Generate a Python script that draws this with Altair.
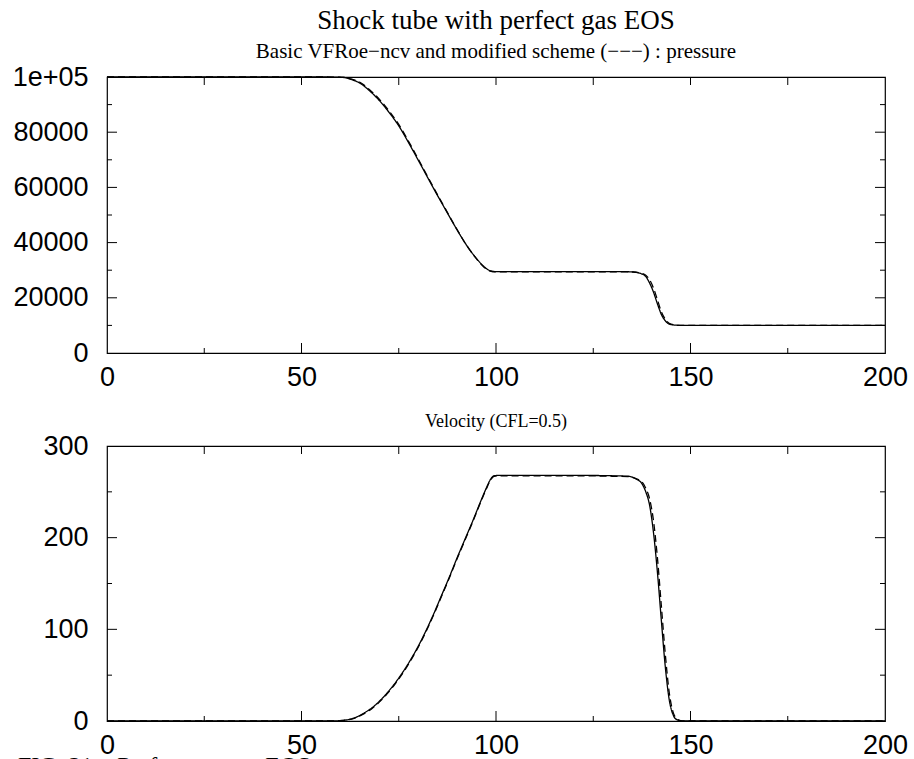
import altair as alt
import pandas as pd

# ---------------- data ----------------
# pressure, basic VFRoe-ncv (solid)
xp_basic = [0, 55, 59, 61, 63, 65, 67.5, 70, 72.5, 75, 78, 81, 84, 87, 90, 92.5, 95, 97,
            98.5, 100, 110, 120, 130, 135, 137, 138.5, 139.5, 140.5, 141.5, 142.5, 143.5,
            144.5, 146, 148, 200]
p_basic = [100000, 100000, 99950, 99800, 99000, 97800, 95000, 91500, 87200, 82300, 75000,
           67300, 59500, 52000, 44600, 38900, 34200, 31200, 29800, 29500, 29500, 29500,
           29500, 29400, 28900, 27700, 25300, 22000, 17800, 14000, 11700, 10500, 10100,
           10000, 10000]
# pressure, modified scheme (dashed)
xp_mod = [0, 55, 59, 61, 63, 65, 67.5, 70, 72.5, 75, 78, 81, 84, 87, 90, 92.5, 95, 97,
          98.5, 100, 110, 120, 130, 135, 137, 138.5, 139.5, 140.5, 141.5, 142.5, 143.5,
          144.5, 146, 148, 200]
p_mod = [100000, 100000, 99950, 99850, 99200, 98100, 95400, 92000, 87700, 82800, 75500,
         67700, 59800, 52200, 44700, 38900, 34100, 31000, 29700, 29400, 29400, 29400,
         29400, 29350, 29000, 28200, 26500, 23500, 19300, 15000, 12300, 10800, 10200,
         10000, 10000]

# velocity, basic VFRoe-ncv (solid)
xu_basic = [0, 58, 60, 62, 64, 66, 68, 70, 72, 74, 76, 78, 80, 82, 84, 86, 88, 90, 92, 94,
            96, 97.5, 98.5, 99.5, 101, 110, 120, 130, 134, 136, 137.5, 138.5, 139.5, 140.5,
            141.5, 142.5, 143.5, 144.5, 145.5, 146.5, 148, 200]
u_basic = [0, 0, 0.5, 1.5, 4, 8.5, 14, 21.5, 30.5, 41, 53, 66.5, 81.5, 98.5, 117, 137, 157,
           178, 198, 218, 239, 254, 263, 267.5, 268, 268, 268, 267.5, 267, 264, 259, 250,
           235, 205, 162, 110, 60, 24, 7, 1.5, 0, 0]
# velocity, modified scheme (dashed)
xu_mod = [0, 58, 60, 62, 64, 66, 68, 70, 72, 74, 76, 78, 80, 82, 84, 86, 88, 90, 92, 94,
          96, 97.5, 98.5, 99.5, 101, 110, 120, 130, 134, 136, 137.5, 138.5, 139.5, 140.5,
          141.5, 142.5, 143.5, 144.5, 145.5, 146.5, 148, 200]
u_mod = [0, 0, 0.4, 1.3, 3.6, 7.8, 13.2, 20.6, 29.6, 40, 52, 65.5, 80.5, 97.5, 116, 136, 156,
         177, 197, 217, 238, 253, 262, 267, 267.5, 267.5, 267.5, 267, 266.5, 264.5, 261,
         254, 242, 218, 178, 126, 74, 32, 10, 2.5, 0, 0]

x_major = [50, 100, 150]
x_minor = [25, 75, 125, 175]
x_top = [25, 50, 75, 100, 125, 150, 175]
x_labels = [0, 50, 100, 150, 200]

p_labels = [0, 20000, 40000, 60000, 80000, 100000]
p_major = [20000, 40000, 60000, 80000]
p_minor = [10000, 30000, 50000, 70000, 90000]

u_labels = [0, 100, 200, 300]
u_major = [100, 200]
u_minor = [50, 150, 250]

TITLE = "Shock tube with perfect gas EOS"
SUB1 = "Basic VFRoe\u2212ncv and modified scheme (\u2212\u2212\u2212) : pressure"
SUB2 = "Velocity (CFL=0.5)"
CAPTION = "FIG. 21:\u00a0\u00a0 Perfect\u00a0\u00a0\u00a0 gas\u00a0\u00a0\u00a0 EOS"

# ---------------- layout ----------------
W = 778
H1 = 276
H2 = 275
MAJ = 10
MIN = 5
TOPT = 8

SANS = "Liberation Sans"
SERIF = "Liberation Serif"

xscale = alt.Scale(domain=[0, 200], nice=False, zero=False)


def x_axis(pad):
    return alt.Axis(values=x_labels, tickSize=0, domain=False, grid=False,
                    labelFont=SANS, labelFontSize=27, labelColor="black",
                    labelPadding=pad, labelFlush=False, labelOverlap=False,
                    labelBound=False, format="d", title=None)


def y_axis(vals, expr=None):
    kw = dict(values=vals, tickSize=0, domain=False, grid=False,
              labelFont=SANS, labelFontSize=27, labelColor="black",
              labelPadding=19, labelFlush=False, labelOverlap=False,
              labelBound=False, title=None, format="d")
    if expr:
        kw["labelExpr"] = expr
    return alt.Axis(**kw)


def panel(xs_a, ys_a, xs_b, ys_b, ydom, yvals, ymaj, ymin, H, expr, xpad, title,
          extra=None):
    yscale = alt.Scale(domain=ydom, nice=False, zero=False)
    xax = x_axis(xpad)
    yax = y_axis(yvals, expr)
    df = pd.DataFrame({
        "x": list(xs_a) + list(xs_b),
        "v": list(ys_a) + list(ys_b),
        "scheme": ["basic"] * len(xs_a) + ["modified"] * len(xs_b),
    })
    lines = alt.Chart(df).mark_line(color="black", strokeWidth=1.3,
                                    interpolate="monotone").encode(
        x=alt.X("x:Q", scale=xscale, axis=xax),
        y=alt.Y("v:Q", scale=yscale, axis=yax),
        strokeDash=alt.StrokeDash("scheme:N", legend=None,
                                  scale=alt.Scale(domain=["basic", "modified"],
                                                  range=[[1, 0], [7, 4]])),
        detail="scheme:N",
    )

    def xt(vals, y0, y1):
        return alt.Chart(pd.DataFrame({"t": vals})).mark_rule(
            color="black", strokeWidth=1).encode(
            x=alt.X("t:Q", scale=xscale, axis=xax),
            y=alt.value(y0), y2=alt.value(y1))

    def yt(vals, x0, x1):
        return alt.Chart(pd.DataFrame({"t": vals})).mark_rule(
            color="black", strokeWidth=1).encode(
            y=alt.Y("t:Q", scale=yscale, axis=yax),
            x=alt.value(x0), x2=alt.value(x1))

    layers = [
        lines,
        xt(x_major, H, H - MAJ), xt(x_minor, H, H - MIN), xt(x_top, 0, TOPT),
        yt(ymaj, 0, MAJ), yt(ymin, 0, MIN),
        yt(ymaj, W - MAJ, W), yt(ymin, W - MIN, W),
    ]
    if extra is not None:
        layers.append(extra)
    return alt.layer(*layers).properties(width=W, height=H, title=title)


top = panel(xp_basic, p_basic, xp_mod, p_mod, [0, 100000], p_labels, p_major, p_minor,
            H1, "datum.value == 100000 ? '1e+05' : format(datum.value, 'd')", 11,
            alt.Title(TITLE, subtitle=SUB1, font=SERIF, fontSize=27, fontWeight="normal",
                      color="black", subtitleFont=SERIF, subtitleFontSize=21,
                      subtitleColor="black", subtitlePadding=6, anchor="middle",
                      frame="group", offset=0))

caption = alt.Chart(pd.DataFrame({"c": [CAPTION]})).mark_text(
    font=SERIF, fontSize=24, align="left", baseline="alphabetic", color="black"
).encode(text="c:N", x=alt.value(-89), y=alt.value(H2 + 52))

bottom = panel(xu_basic, u_basic, xu_mod, u_mod, [0, 300], u_labels, u_major, u_minor,
               H2, None, 11,
               alt.Title(SUB2, font=SERIF, fontSize=18, fontWeight="normal",
                         color="black", anchor="middle", frame="group", offset=1.5),
               extra=caption)

chart = alt.vconcat(top, bottom, spacing=20).properties(
    padding={"left": 11, "top": 6, "right": 5, "bottom": 0}
).configure_view(stroke="black", strokeWidth=1.2)

chart.save("out.html", embed_options={"renderer": "svg", "actions": False})
